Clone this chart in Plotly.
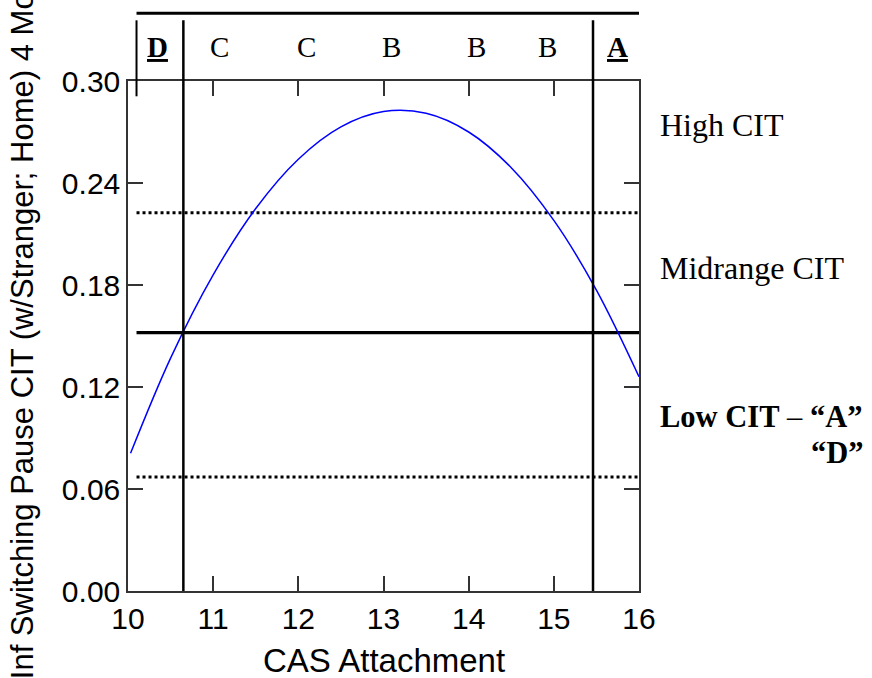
import plotly.graph_objects as go

# Fitted switching-pause CIT across CAS attachment scores
cas_x = [10.03, 10.5, 11.0, 11.5, 12.0, 12.5, 13.0, 13.5, 14.0, 14.5, 15.0, 15.5, 16.0]
cit_y = [0.081, 0.137, 0.186, 0.225, 0.254, 0.273, 0.282, 0.281, 0.270, 0.249, 0.218, 0.177, 0.126]

# CIT reference levels: mean (solid) and high/low cut-offs (dotted)
cit_mean = 0.152
cit_high = 0.2225
cit_low = 0.067
ref_x = [10.1, 16.0]

# CAS cut points separating the D / C-B / A classifications
cas_cuts = [10.65, 15.46]

# Classification letters across the top band
band_labels = ["D", "C", "C", "B", "B", "B", "A"]
band_x = [10.35, 11.08, 12.1, 13.09, 14.09, 14.92, 15.75]
band_emph = [True, False, False, False, False, False, True]

# Right-hand CIT zone labels
zone_text = ["High CIT", "Midrange CIT",
             "<b>Low CIT</b> – <b>“A”</b>", "<b>“D”</b>"]
zone_y = [0.274, 0.190, 0.1025, 0.081]

x_ticks = [10, 11, 12, 13, 14, 15, 16]
y_ticks = [0.00, 0.06, 0.12, 0.18, 0.24, 0.30]

SANS = "Liberation Sans"
SERIF = "Liberation Serif"

fig = go.Figure()

# reference levels
fig.add_trace(go.Scatter(x=ref_x, y=[cit_high] * 2, mode="lines",
                         line=dict(color="black", width=3, dash="dot"),
                         hoverinfo="skip", showlegend=False))
fig.add_trace(go.Scatter(x=ref_x, y=[cit_low] * 2, mode="lines",
                         line=dict(color="black", width=3, dash="dot"),
                         hoverinfo="skip", showlegend=False))
fig.add_trace(go.Scatter(x=ref_x, y=[cit_mean] * 2, mode="lines",
                         line=dict(color="black", width=3.2),
                         hoverinfo="skip", showlegend=False))

# fitted curve
fig.add_trace(go.Scatter(x=cas_x, y=cit_y, mode="lines",
                         line=dict(color="#0000ff", width=1.5, shape="spline"),
                         showlegend=False))

band_top = 1.119   # top of the classification band (paper units)
band_line = 1.133  # rule above the band

shapes = []
# vertical cut lines through plot and band
for cx in cas_cuts:
    shapes.append(dict(type="line", xref="x", yref="paper", x0=cx, x1=cx,
                       y0=0, y1=band_top, line=dict(color="black", width=2.5)))
# band outline
shapes.append(dict(type="line", xref="x", yref="paper", x0=10.1, x1=10.1,
                   y0=0.97, y1=band_top, line=dict(color="black", width=2)))
shapes.append(dict(type="line", xref="x", yref="paper", x0=16.02, x1=16.02,
                   y0=1.0, y1=band_top, line=dict(color="black", width=2)))
shapes.append(dict(type="line", xref="x", yref="paper", x0=10.1, x1=16.11,
                   y0=band_line, y1=band_line, line=dict(color="black", width=3)))

annotations = []
for lab, bx, emph in zip(band_labels, band_x, band_emph):
    txt = f"<b><u>{lab}</u></b>" if emph else lab
    annotations.append(dict(x=bx, y=1.066, xref="x", yref="paper", text=txt,
                            showarrow=False, xanchor="center", yanchor="middle",
                            font=dict(family=SERIF, size=29, color="black")))

for i, (t, zy) in enumerate(zip(zone_text, zone_y)):
    if i < 2:
        annotations.append(dict(x=1.038, y=zy, xref="paper", yref="y", text=t,
                                showarrow=False, xanchor="left", yanchor="middle",
                                font=dict(family=SERIF, size=32, color="black")))
    elif i == 2:
        annotations.append(dict(x=1.038, y=zy, xref="paper", yref="y", text=t,
                                showarrow=False, xanchor="left", yanchor="middle",
                                font=dict(family=SERIF, size=30.5, color="black")))
    else:
        annotations.append(dict(x=1.444, y=zy, xref="paper", yref="y", text=t,
                                showarrow=False, xanchor="right", yanchor="middle",
                                font=dict(family=SERIF, size=30.5, color="black")))

# axis titles
annotations.append(dict(x=0.5, y=-0.096, xref="paper", yref="paper",
                        text="CAS Attachment", showarrow=False,
                        xanchor="center", yanchor="top",
                        font=dict(family=SANS, size=33, color="black")))
annotations.append(dict(x=-0.207, y=0.5, xref="paper", yref="paper",
                        text="Inf Switching Pause CIT (w/Stranger; Home) 4 Mo",
                        textangle=-90, showarrow=False,
                        xanchor="center", yanchor="middle",
                        font=dict(family=SANS, size=31, color="black")))

axis_common = dict(showline=True, linecolor="#333333", linewidth=1.5,
                   mirror="ticks", ticks="inside", ticklen=15, tickwidth=1.5,
                   tickcolor="#333333", showgrid=False, zeroline=False,
                   tickfont=dict(family=SANS, size=30, color="black"))

fig.update_layout(
    width=872, height=678, autosize=False,
    margin=dict(l=128, r=233, t=81, b=87),
    paper_bgcolor="white", plot_bgcolor="white",
    xaxis=dict(range=[10, 16], tickvals=x_ticks, **axis_common),
    yaxis=dict(range=[0, 0.30], tickvals=y_ticks, tickformat=".2f", **axis_common),
    shapes=shapes, annotations=annotations,
)

fig.write_html("out.html")
